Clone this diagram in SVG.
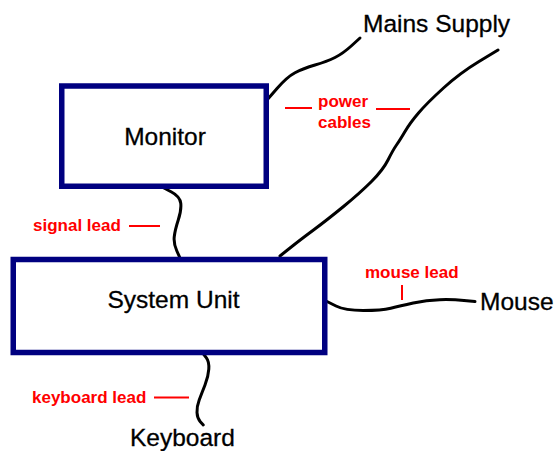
<svg xmlns="http://www.w3.org/2000/svg" width="554" height="451" viewBox="0 0 554 451">
<style>
.box{fill:#fff;stroke:#000080;stroke-width:5.5}
.lbl{font-family:"Liberation Sans",Arial,sans-serif;font-size:24.5px;fill:#000;stroke:#000;stroke-width:0.3}
.red{font-family:"Liberation Sans",Arial,sans-serif;font-size:17px;font-weight:bold;fill:#ff0000}
.cable{fill:none;stroke:#000;stroke-width:3;stroke-linejoin:round;stroke-linecap:round}
.tick{fill:none;stroke:#ff0000;stroke-width:2}
</style>
<rect width="554" height="451" fill="#fff"/>
<g id="connectors">
<path class="cable" d="M267,100 L277,88.5 Q287,77 295,72.75 Q303,68.5 315,65 Q327,61.5 335,57.5 Q343,53.5 351.5,45.75 L360,38"/>
<path class="cable" d="M498,50 L479,61.5 Q460,73 443.5,88 Q427,103 418.5,113 Q410,123 405,131.5 Q400,140 396.5,145 Q393,150 388,160 Q383,170 371.5,181.5 Q360,193 343.5,206.5 Q327,220 313.5,230 Q300,240 290,248 L280,256"/>
<path class="cable" d="M163,187.5 L171.5,192 Q180,196.5 180.75,203.25 Q181.5,210 178.25,220 Q175,230 174.25,236.75 Q173.5,243.5 176.75,250.75 L180,258"/>
<path class="cable" d="M327,301.5 L336,306 Q345,310.5 363.25,310.5 Q381.5,310.5 390.75,308.25 Q400,306 413.25,303 Q426.5,300 439.75,299.65 Q453,299.3 464,300.4 L475,301.5"/>
<path class="cable" d="M203.5,354 L206.4,357.85 Q209.3,361.7 208.8,369.2 Q208.3,376.7 205,385 Q201.7,393.3 199.2,400 Q196.7,406.7 197,412.5 Q197.3,418.3 200.3,421.65 L203.3,425"/>
<line class="tick" x1="285" y1="108" x2="312" y2="108"/>
<line class="tick" x1="376" y1="109" x2="410" y2="109"/>
<line class="tick" x1="129" y1="226" x2="160" y2="226"/>
<line class="tick" x1="154" y1="397.5" x2="189" y2="397.5"/>
<line class="tick" x1="402" y1="285" x2="402" y2="300"/>
</g>
<g id="monitor">
<rect class="box" x="61.75" y="86" width="204.5" height="100.25"/>
<text class="lbl" x="165" y="145" text-anchor="middle">Monitor</text>
</g>
<g id="system-unit">
<rect class="box" x="13.25" y="259.5" width="311.5" height="93"/>
<text class="lbl" x="173.5" y="308" text-anchor="middle">System Unit</text>
</g>
<g id="mains-supply">
<text class="lbl" x="363" y="32">Mains Supply</text>
</g>
<g id="mouse">
<text class="lbl" x="480" y="310">Mouse</text>
</g>
<g id="keyboard">
<text class="lbl" x="130" y="446">Keyboard</text>
</g>
<g id="labels">
<text class="red" x="318" y="107">power</text>
<text class="red" x="318" y="128">cables</text>
<text class="red" x="33" y="231">signal lead</text>
<text class="red" x="365" y="278">mouse lead</text>
<text class="red" x="32" y="403">keyboard lead</text>
</g>
</svg>
